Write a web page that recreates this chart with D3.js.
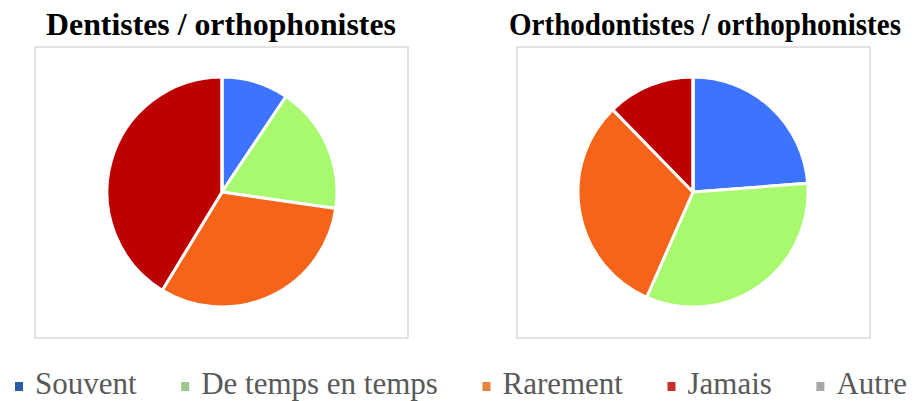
<!DOCTYPE html>
<html>
<head>
<meta charset="utf-8">
<script src="https://cdn.jsdelivr.net/npm/d3@7"></script>
<style>
  body { margin: 0; background: #fff; }
  svg { display: block; }
  text { font-family: "Liberation Serif", "Times New Roman", "DejaVu Serif", serif; }
</style>
</head>
<body>
<svg id="chart" width="913" height="401"></svg>
<script>
// categories shared by both pies
var categories = ["Souvent", "De temps en temps", "Rarement", "Jamais", "Autre"];
// % of answers
var dentistes = [9.4, 17.9, 31.4, 41.3, 0];
var orthodontistes = [23.8, 32.8, 31.1, 12.3, 0];
var titles = ["Dentistes / orthophonistes", "Orthodontistes / orthophonistes"];

var sliceColors = ["#3d74ff", "#a8f96e", "#f56418", "#bd0000", "#a5a5a5"];
var legendColors = ["#2b5ca8", "#9cc88c", "#e8833c", "#c8302a", "#a8a8a8"];

var svg = d3.select("#chart");

var panels = [
    { title: titles[0], values: dentistes, box: [35, 47, 373, 291], cx: 222, cy: 192, tx: 221, tw: 350 },
    { title: titles[1], values: orthodontistes, box: [517, 47, 353, 291], cx: 693, cy: 192, tx: 705, tw: 392 }
];

var pie = d3.pie().sort(null).value(function(d) { return d; });
var arc = d3.arc().innerRadius(0).outerRadius(115);

panels.forEach(function(p) {
    // chart frame
    svg.append("rect")
        .attr("x", p.box[0]).attr("y", p.box[1])
        .attr("width", p.box[2]).attr("height", p.box[3])
        .attr("fill", "none")
        .attr("stroke", "#d9d9d9")
        .attr("stroke-width", 1.5);

    // title squeezed horizontally to the width of the original (narrow bold serif)
    var t = svg.append("text")
        .attr("text-anchor", "middle")
        .attr("font-weight", "bold")
        .attr("font-size", 32)
        .attr("fill", "#000")
        .text(p.title);
    var k = Math.min(1, p.tw / t.node().getComputedTextLength());
    t.attr("transform", "translate(" + p.tx + ",35) scale(" + k + ",1)");

    var g = svg.append("g")
        .attr("transform", "translate(" + p.cx + "," + p.cy + ")");

    g.selectAll("path")
        .data(pie(p.values))
        .enter().append("path")
        .attr("d", arc)
        .attr("fill", function(d, i) { return sliceColors[i]; })
        .attr("stroke", "#fff")
        .attr("stroke-width", 3)
        .attr("stroke-linejoin", "round");
});

// legend: spread between x0 and x1, gaps computed from measured text widths
var legend = svg.append("g").attr("class", "legend");
var x0 = 15, x1 = 907;
var items = categories.map(function(c, i) {
    var t = legend.append("text")
        .attr("y", 394)
        .attr("font-size", 31)
        .attr("fill", "#595959")
        .text(c);
    return { t: t, w: t.node().getComputedTextLength(), i: i };
});
var used = d3.sum(items, function(d) { return 20 + d.w; });
var gap = (x1 - x0 - used) / (items.length - 1);
var lx = x0;
items.forEach(function(d) {
    legend.append("rect")
        .attr("x", lx).attr("y", 382)
        .attr("width", 8).attr("height", 9)
        .attr("fill", legendColors[d.i]);
    d.t.attr("x", lx + 20);
    lx += 20 + d.w + gap;
});
</script>
</body>
</html>
